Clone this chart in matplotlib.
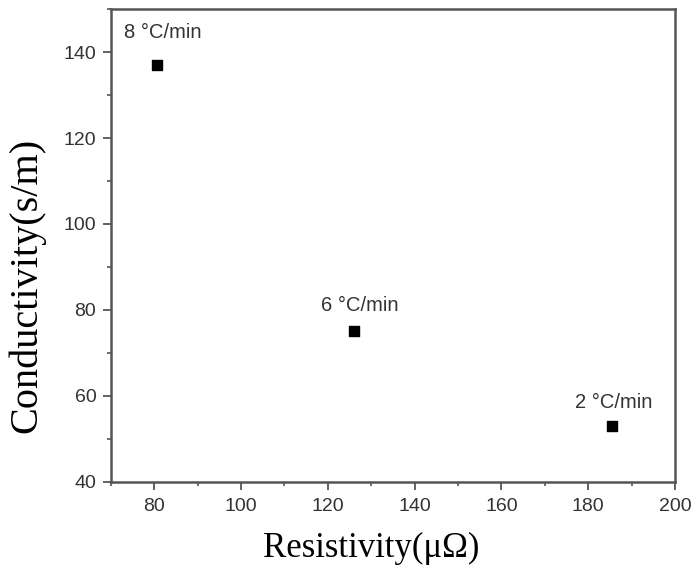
import matplotlib
matplotlib.use('Agg')
import matplotlib.pyplot as plt
from matplotlib.ticker import MultipleLocator

resistivity = [80.6, 126.0, 185.5]
conductivity = [137, 75, 53]
labels = ['8 °C/min', '6 °C/min', '2 °C/min']

# label offsets above each point (points)
label_offsets = [(4, 23), (4, 19), (1, 17)]

fig = plt.figure(figsize=(6.93, 5.65), dpi=100)
ax = fig.add_axes([0.160, 0.147, 0.814, 0.837])

ax.scatter(resistivity, conductivity, marker='s', s=42, color='black', zorder=3)
for x, y, lab, off in zip(resistivity, conductivity, labels, label_offsets):
    ax.annotate(lab, (x, y), xytext=off, textcoords='offset points',
                ha='center', va='center', fontsize=14.5, color='#333333',
                family='Liberation Sans')

ax.set_xlim(70, 200)
ax.set_ylim(40, 150)
ax.xaxis.set_major_locator(MultipleLocator(20))
ax.xaxis.set_minor_locator(MultipleLocator(10))
ax.yaxis.set_major_locator(MultipleLocator(20))
ax.yaxis.set_minor_locator(MultipleLocator(10))
ax.tick_params(which='both', direction='out', top=False, right=False, color='#555555')
ax.tick_params(axis='x', which='major', pad=6)
ax.tick_params(axis='y', which='major', pad=5)
ax.tick_params(which='major', length=5.5, width=1.3, labelsize=14, labelcolor='#333333')
ax.tick_params(which='minor', length=3, width=1.2)
for lab in ax.get_xticklabels() + ax.get_yticklabels():
    lab.set_family('Liberation Sans')
for sp in ax.spines.values():
    sp.set_color('#555555')
    sp.set_linewidth(1.8)

ax.set_xlabel('Resistivity(μΩ)', family='Liberation Serif', fontsize=25)
ax.set_ylabel('Conductivity(s/m)', family='Liberation Serif', fontsize=29)
ax.xaxis.set_label_coords(0.461, -0.106)
ax.yaxis.set_label_coords(-0.117, 0.416)

fig.savefig('out.png', dpi=100)
